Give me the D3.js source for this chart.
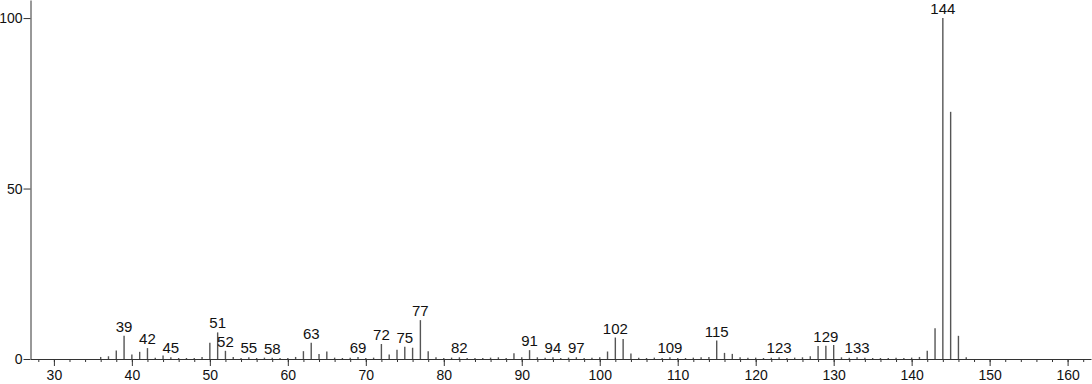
<!DOCTYPE html>
<html>
<head>
<meta charset="utf-8">
<script src="https://cdn.jsdelivr.net/npm/d3@7"></script>
<style>
  body { margin: 0; background: #fff; }
  svg text { font-family: "Liberation Sans", Arial, sans-serif; fill: #111; }
</style>
</head>
<body>
<div id="chart"></div>
<script>
// m/z values and relative intensities
const mz = [36, 37, 38, 39, 40, 41, 42, 43, 44, 45, 46, 47, 48, 49, 50, 51, 52, 53, 54, 55,
  56, 57, 58, 59, 60, 61, 62, 63, 64, 65, 66, 67, 68, 69, 70, 71, 72, 73, 74, 75,
  76, 77, 78, 79, 80, 81, 82, 83, 84, 85, 86, 87, 88, 89, 90, 91, 92, 93, 94, 95,
  96, 97, 98, 99, 100, 101, 102, 103, 104, 105, 106, 107, 108, 109, 110, 111, 112, 113, 114, 115,
  116, 117, 118, 119, 120, 121, 122, 123, 124, 125, 126, 127, 128, 129, 130, 131, 132, 133, 134, 135,
  136, 137, 138, 139, 140, 141, 142, 143, 144, 145, 146, 147];
const intensity = [0.6, 0.8, 2.5, 6.8, 1.3, 2.1, 3.2, 0.4, 1.0, 0.5, 0.3, 0.3, 0.3, 0.6, 4.8, 7.8, 2.4, 0.6, 0.3, 0.5,
  0.3, 0.4, 0.4, 0.3, 0.3, 0.6, 2.3, 4.8, 1.5, 2.2, 0.4, 0.3, 0.4, 0.6, 0.3, 0.4, 4.4, 1.3, 2.7, 3.6,
  3.3, 11.4, 2.3, 0.5, 0.3, 0.4, 0.5, 0.3, 0.3, 0.3, 0.4, 0.5, 0.3, 1.7, 0.5, 2.6, 0.5, 0.4, 0.5, 0.3,
  0.4, 0.5, 0.3, 0.4, 0.5, 2.2, 6.3, 5.9, 1.6, 0.4, 0.3, 0.4, 0.3, 0.5, 0.3, 0.3, 0.4, 0.5, 0.6, 5.4,
  1.8, 1.5, 0.5, 0.4, 0.4, 0.3, 0.4, 0.5, 0.3, 0.4, 0.5, 0.8, 3.8, 3.9, 4.1, 0.5, 0.4, 0.5, 0.4, 0.3,
  0.3, 0.3, 0.4, 0.3, 0.4, 0.6, 2.4, 9.0, 100, 72.5, 6.8, 0.5];
// peaks that carry a label
const labeled = [39, 42, 45, 51, 52, 55, 58, 63, 69, 72, 75, 77, 82, 91, 94, 97, 102, 109, 115, 123, 129, 133, 144];
const xTicks = [30, 40, 50, 60, 70, 80, 90, 100, 110, 120, 130, 140, 150, 160];
const yTicks = [0, 50, 100];

const peaks = mz.map((m, i) => ({mz: m, value: intensity[i]}));

const width = 1092, height = 384;
const svg = d3.select("#chart").append("svg")
    .attr("width", width)
    .attr("height", height);

const x = d3.scaleLinear().domain([27, 163]).range([30.5, 1091]);
const y = d3.scaleLinear().domain([0, 105.3]).range([359, 0]);

// minor ticks every 2
svg.append("g")
    .attr("transform", "translate(0," + y(0) + ")")
    .call(d3.axisBottom(x).tickValues(d3.range(28, 163, 2)).tickSize(3).tickSizeOuter(0).tickFormat(""))
    .call(g => g.selectAll("line, path").attr("stroke", "#333"));

// major ticks + labels
svg.append("g")
    .attr("transform", "translate(0," + y(0) + ")")
    .call(d3.axisBottom(x).tickValues(xTicks).tickSize(7).tickSizeOuter(0).tickPadding(4))
    .call(g => g.select(".domain").remove())
    .call(g => g.selectAll("line").attr("stroke", "#333"))
    .call(g => g.selectAll("text").attr("font-size", 14).attr("font-family", null));

// y axis
svg.append("g")
    .attr("transform", "translate(" + x(27) + ",0)")
    .call(d3.axisLeft(y).tickValues(yTicks).tickSize(7).tickSizeOuter(0).tickPadding(1))
    .call(g => g.selectAll("line, path").attr("stroke", "#333"))
    .call(g => g.selectAll("text").attr("font-size", 14).attr("font-family", null));

// peaks
svg.append("g").selectAll("line")
  .data(peaks)
  .join("line")
    .attr("x1", d => x(d.mz))
    .attr("x2", d => x(d.mz))
    .attr("y1", y(0))
    .attr("y2", d => y(d.value))
    .attr("stroke", "#555")
    .attr("stroke-width", 1.4);

// peak labels
svg.append("g").selectAll("text")
  .data(peaks.filter(d => labeled.includes(d.mz)))
  .join("text")
    .attr("x", d => x(d.mz))
    .attr("y", d => y(d.value) - 4)
    .attr("text-anchor", "middle")
    .attr("font-size", 15)
    .text(d => d.mz);
</script>
</body>
</html>
